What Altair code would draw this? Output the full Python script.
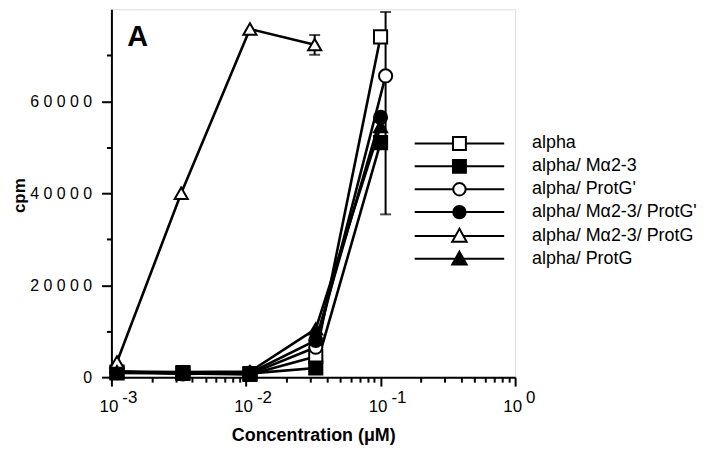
import altair as alt
import pandas as pd

# ---------------- data ----------------
series = ["alpha", "alpha/ Mα2-3", "alpha/ ProtG'", "alpha/ Mα2-3/ ProtG'",
          "alpha/ Mα2-3/ ProtG", "alpha/ ProtG"]
shapes = ["square", "square", "circle", "circle", "triangle-up", "triangle-up"]
fills = ["white", "black", "white", "black", "white", "black"]

conc_std = [0.0011, 0.0034, 0.0107, 0.033, 0.1]
conc_circ = [0.0011, 0.0034, 0.0107, 0.033, 0.109]
conc_tri = [0.0011, 0.0033, 0.0107, 0.0324]

cpm_alpha = [900, 800, 600, 4500, 74000]
cpm_alpha_m = [1100, 1000, 800, 2000, 51000]
cpm_alpha_pg1 = [1000, 900, 700, 6500, 65500]
cpm_alpha_m_pg1 = [1300, 700, 900, 8000, 56500]
cpm_alpha_m_pg = [3300, 40000, 75700, 72300]
cpm_alpha_pg = [1200, 1100, 1200, 10500, 54500]

err_conc = [0.109, 0.0324]
err_lo = [35400, 70100]
err_hi = [79400, 74400]

major_x = [0.001, 0.01, 0.1, 1]
major_exp = ["-3", "-2", "-1", "0"]
major_y = [0, 20000, 40000, 60000]
minor_y = [10000, 30000, 50000, 70000]
minor_x = [m * d for d in [0.001, 0.01, 0.1] for m in range(2, 10)]

# ---------------- frames ----------------
xs = [conc_std, conc_std, conc_circ, conc_std, conc_tri, conc_std]
ys = [cpm_alpha, cpm_alpha_m, cpm_alpha_pg1, cpm_alpha_m_pg1, cpm_alpha_m_pg, cpm_alpha_pg]
rows = []
for s, xv, yv in zip(series, xs, ys):
    for a, b in zip(xv, yv):
        rows.append({"series": s, "conc": a, "cpm": b})
df = pd.DataFrame(rows)
err = pd.DataFrame({"conc": err_conc, "lo": err_lo, "hi": err_hi})
ticks = pd.DataFrame({"v": major_x, "base": ["10"] * 4, "exp": major_exp})
panel = pd.DataFrame({"t": ["A"]})

FONT = "Liberation Sans"
xscale = alt.Scale(type="log", domain=[0.001, 1])
yscale = alt.Scale(domain=[0, 80000])

# legend symbol paths (line through marker)
paths = {
    "square": "M-9,0H-1.3M1.3,0H9M-1.3,-1.3H1.3V1.3H-1.3Z",
    "circle": "M-9,0H-1.25M1.25,0H9M-1.25,0A1.25,1.25,0,1,1,1.25,0A1.25,1.25,0,1,1,-1.25,0Z",
    "triangle-up": "M-9,0H-0.8M0.8,0H9M0,-1.45L1.45,1.15L-1.45,1.15Z",
}
legend_shapes = [paths[s] for s in shapes]

legend = alt.Legend(
    orient="none", legendX=341, legendY=126, title=None,
    labelFont=FONT, labelFontSize=18, labelColor="black", labelOffset=64,
    symbolSize=100, symbolStrokeColor="black", symbolStrokeWidth=2,
    symbolOpacity=1, rowPadding=1, padding=0, labelLimit=400,
)

lines = alt.Chart(df).mark_line(color="black", strokeWidth=2.6).encode(
    x=alt.X("conc:Q", scale=xscale, axis=alt.Axis(
        values=major_x, labels=False, tickSize=9, tickWidth=2, tickColor="black",
        domainWidth=2, domainColor="black", grid=False, orient="bottom",
        title="Concentration (μM)", titleFont=FONT, titleFontSize=18,
        titleFontWeight="bold", titleColor="black", titleY=59,
        titleBaseline="middle")),
    y=alt.Y("cpm:Q", scale=yscale, axis=alt.Axis(
        values=major_y, tickSize=10, tickWidth=2, tickColor="black",
        domainWidth=2, domainColor="black", grid=False, orient="left",
        labelFont=FONT, labelFontSize=16, labelColor="black", labelPadding=10,
        labelExpr="join(split(datum.value + '', ''), ' ')",
        title="cpm", titleFont=FONT, titleFontSize=17, titleFontWeight="bold",
        titleColor="black", titleAngle=-90, titleX=-87, titleY=187,
        titleBaseline="alphabetic", titleAlign="center")),
    detail="series:N",
)

rule = alt.Chart(err).mark_rule(color="black", strokeWidth=2).encode(
    x=alt.X("conc:Q", scale=xscale, axis=alt.Axis(
        values=minor_x, labels=False, tickSize=5, tickWidth=2, tickColor="black",
        domain=False, grid=False, title=None, orient="bottom")),
    y=alt.Y("lo:Q", scale=yscale, axis=alt.Axis(
        values=minor_y, labels=False, tickSize=5, tickWidth=2, tickColor="black",
        domain=False, grid=False, title=None, orient="left")),
    y2="hi:Q",
)
cap_lo = alt.Chart(err).mark_tick(orient="horizontal", color="black", size=11,
                                  thickness=2).encode(
    x=alt.X("conc:Q", scale=xscale, axis=None),
    y=alt.Y("lo:Q", scale=yscale, axis=None),
)
cap_hi = alt.Chart(err).mark_tick(orient="horizontal", color="black", size=11,
                                  thickness=2).encode(
    x=alt.X("conc:Q", scale=xscale, axis=None),
    y=alt.Y("hi:Q", scale=yscale, axis=None),
)

points = alt.Chart(df).mark_point(stroke="black", strokeWidth=2, size=175,
                                  opacity=1).encode(
    x=alt.X("conc:Q", scale=xscale, axis=None),
    y=alt.Y("cpm:Q", scale=yscale, axis=None),
    shape=alt.Shape("series:N", scale=alt.Scale(domain=series, range=shapes),
                    legend=None),
    fill=alt.Fill("series:N", scale=alt.Scale(domain=series, range=fills),
                  legend=None),
)

# invisible layer that only supplies the legend (line-through-marker symbols)
legend_layer = alt.Chart(df).mark_point(strokeWidth=2, opacity=0).encode(
    x=alt.X("conc:Q", scale=xscale, axis=None),
    y=alt.Y("cpm:Q", scale=yscale, axis=None),
    shape=alt.Shape("series:N", scale=alt.Scale(domain=series, range=legend_shapes),
                    legend=legend),
    fill=alt.Fill("series:N", scale=alt.Scale(domain=series, range=fills),
                  legend=legend),
    stroke=alt.Stroke("series:N", scale=alt.Scale(domain=series, range=["black"] * 6),
                      legend=legend),
)

base_lbl = alt.Chart(ticks).mark_text(font=FONT, fontSize=17, color="black",
                                      align="right", dx=7, baseline="alphabetic").encode(
    x=alt.X("v:Q", scale=xscale, axis=None), y=alt.value(405), text="base:N")
exp_lbl = alt.Chart(ticks).mark_text(font=FONT, fontSize=17, color="black",
                                     align="left", dx=11, baseline="alphabetic").encode(
    x=alt.X("v:Q", scale=xscale, axis=None), y=alt.value(396), text="exp:N")

panel_lbl = alt.Chart(panel).mark_text(font=FONT, fontSize=29, fontWeight="bold",
                                       color="black", align="left",
                                       baseline="alphabetic").encode(
    x=alt.value(16), y=alt.value(37), text="t:N")

chart = alt.layer(lines, rule, cap_lo, cap_hi, points, legend_layer, base_lbl,
                  exp_lbl, panel_lbl).resolve_axis(
    x="independent", y="independent").resolve_scale(
    shape="independent", fill="independent", stroke="independent").properties(
    width=406, height=370,
    autosize=alt.AutoSizeParams(type="none"),
    padding={"left": 104, "top": 0, "right": 198, "bottom": 72},
).configure_view(stroke="black", strokeWidth=2).configure(background="white")

chart.save("out.html", embed_options={"renderer": "svg", "actions": False})
